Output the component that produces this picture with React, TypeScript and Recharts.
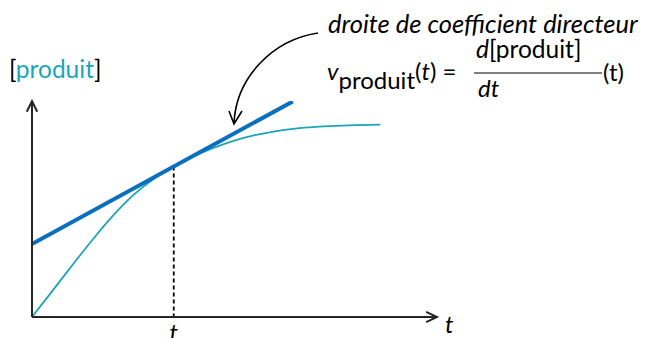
import { ComposedChart, Line, XAxis, YAxis, ReferenceLine } from 'recharts';

// reaction progress curve (t and [produit] on 0..100 scales)
const curveT = [0, 5, 10, 15, 20, 25, 30, 35, 40, 45, 50, 55, 60, 65, 70, 75, 80, 86];
const curveY = [0, 12.0, 24.1, 35.9, 46.9, 56.4, 63.9, 69.7, 74.45, 78.45, 81.65, 84.15, 85.95, 87.2, 88.0, 88.5, 88.85, 89.1];

// tangent at t
const tangentT = [0, 64.4];
const tangentY = [33.8, 99.8];

const tMark = 35;
const yMark = 69.7;
const tickLabels = ['t'];

const TEAL = '#1ba6b6';
const BLUE = '#0a6fbf';
const AXIS = '#262626';
const FONT = 'Lato, "Open Sans", sans-serif';

const curve = curveT.map((t, i) => ({ t, y: curveY[i] }));
const tangent = tangentT.map((t, i) => ({ t, y: tangentY[i] }));

function ArrowAxis(props: any) {
  const { x1, y1, x2, y2 } = props;
  const a = Math.atan2(y2 - y1, x2 - x1);
  const len = 12;
  const w = 0.45;
  const p1 = [x2 - len * Math.cos(a - w), y2 - len * Math.sin(a - w)];
  const p2 = [x2 - len * Math.cos(a + w), y2 - len * Math.sin(a + w)];
  return (
    <g>
      <line x1={x1} y1={y1} x2={x2} y2={y2} stroke={AXIS} strokeWidth={2} />
      <polyline
        points={`${p1[0]},${p1[1]} ${x2},${y2} ${p2[0]},${p2[1]}`}
        fill="none"
        stroke={AXIS}
        strokeWidth={2}
      />
    </g>
  );
}

function TTick(props: any) {
  const { x, y, index } = props;
  return (
    <text x={x} y={y + 15.5} textAnchor="middle" fontFamily={FONT} fontStyle="italic" fontSize={24} fill="#000">
      {tickLabels[index]}
    </text>
  );
}

export default function App() {
  return (
    <div style={{ position: 'absolute', left: 0, top: 0, width: 648, height: 338, background: '#fff' }}>
      <ComposedChart width={648} height={338} margin={{ top: 101, right: 211, bottom: 0, left: 32 }}>
        <XAxis
          type="number"
          dataKey="t"
          domain={[0, 100]}
          ticks={[tMark]}
          tick={<TTick />}
          axisLine={false}
          tickLine={false}
          height={21}
          allowDataOverflow
        />
        <YAxis type="number" dataKey="y" domain={[0, 100]} hide allowDataOverflow />
        <ReferenceLine
          segment={[{ x: tMark, y: yMark }, { x: tMark, y: 0 }]}
          stroke="#000"
          strokeWidth={1.8}
          strokeDasharray="4 3"
          ifOverflow="visible"
        />
        <Line
          data={curve}
          dataKey="y"
          type="monotone"
          stroke={TEAL}
          strokeWidth={1.8}
          dot={false}
          isAnimationActive={false}
        />
        <Line
          data={tangent}
          dataKey="y"
          type="linear"
          stroke={BLUE}
          strokeWidth={4}
          dot={false}
          isAnimationActive={false}
        />
        <ReferenceLine segment={[{ x: 0, y: 0 }, { x: 100, y: 0 }]} shape={ArrowAxis} ifOverflow="visible" />
        <ReferenceLine segment={[{ x: 0, y: 0 }, { x: 0, y: 100 }]} shape={ArrowAxis} ifOverflow="visible" />
      </ComposedChart>
      <svg
        width={648}
        height={338}
        style={{ position: 'absolute', left: 0, top: 0, pointerEvents: 'none' }}
        fontFamily={FONT}
      >
        <text x={9} y={78} fontSize={24.5} fill="#000">
          [<tspan fill={TEAL}>produit</tspan>]
        </text>
        <text x={445} y={333} fontSize={24} fontStyle="italic" fill="#000">
          t
        </text>
        <text x={328} y={33} fontSize={25.5} fontStyle="italic" fill="#000">
          droite de coefficient directeur
        </text>
        <text x={327} y={80} fontSize={24} fill="#000">
          <tspan fontStyle="italic">v</tspan>
          <tspan dy={9}>produit</tspan>
          <tspan dy={-9}>(</tspan>
          <tspan fontStyle="italic">t</tspan>
          <tspan>) =</tspan>
        </text>
        <text x={476} y={58} fontSize={24.5} fill="#000">
          <tspan fontStyle="italic">d</tspan>[produit]
        </text>
        <line x1={474} y1={73} x2={602} y2={73} stroke="#000" strokeWidth={1} />
        <text x={478} y={97} fontSize={24} fontStyle="italic" fill="#000">
          dt
        </text>
        <text x={603} y={81} fontSize={24} fill="#000">
          (t)
        </text>
        <path d="M318,33 C272,40 236,78 234,123" fill="none" stroke="#000" strokeWidth={1.6} />
        <polyline points="229,111 234,124 242,111" fill="none" stroke="#000" strokeWidth={1.6} />
      </svg>
    </div>
  );
}
